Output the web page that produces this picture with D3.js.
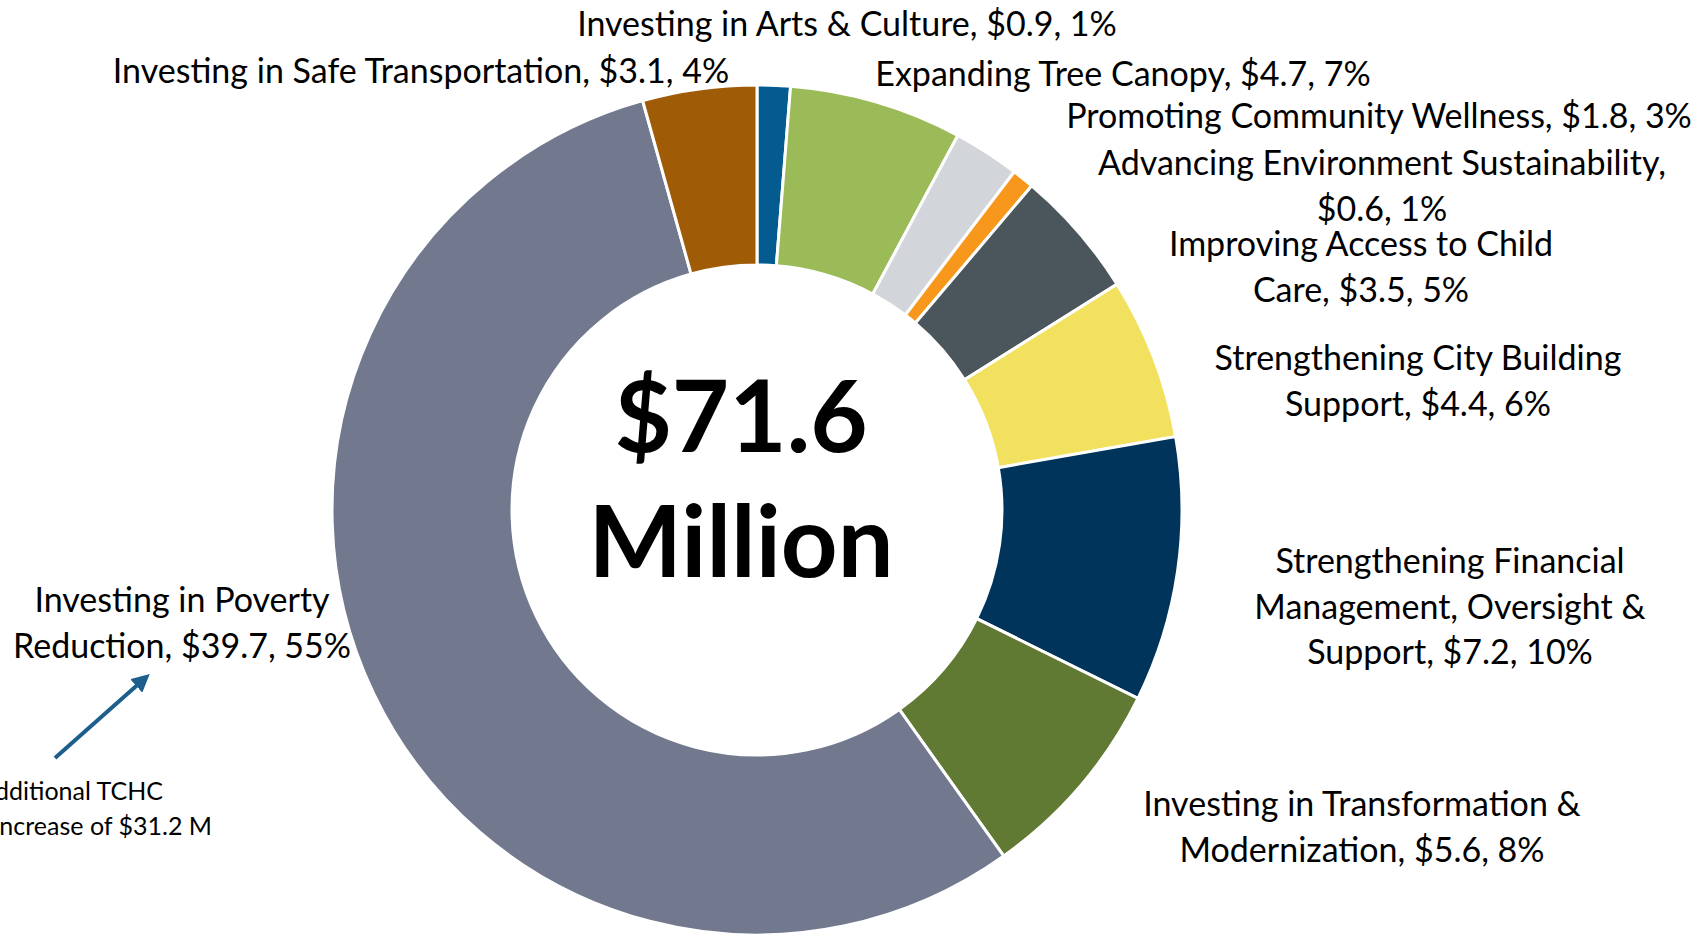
<!DOCTYPE html>
<html>
<head>
<meta charset="utf-8">
<script src="https://cdn.jsdelivr.net/npm/d3@7"></script>
<style>
  html, body { margin: 0; padding: 0; background: #fff; overflow: hidden; }
  svg { display: block; }
  .lbl { font-family: Lato, "Open Sans", sans-serif; font-size: 34px; fill: #000; }
</style>
</head>
<body>
<div id="chart"></div>
<script>
// data (clockwise from 12 o'clock)
var categories = [
  "Investing in Arts & Culture",
  "Expanding Tree Canopy",
  "Promoting Community Wellness",
  "Advancing Environment Sustainability",
  "Improving Access to Child Care",
  "Strengthening City Building Support",
  "Strengthening Financial Management, Oversight & Support",
  "Investing in Transformation & Modernization",
  "Investing in Poverty Reduction",
  "Investing in Safe Transportation"
];
var values = [0.9, 4.7, 1.8, 0.6, 3.5, 4.4, 7.2, 5.6, 39.7, 3.1];
var percents = [1, 7, 3, 1, 5, 6, 10, 8, 55, 4];
var totalText = ["$71.6", "Million"];
var noteText = ["Additional TCHC", "Increase of $31.2 M"];

var colors = ["#045b8f", "#9bbb59", "#d2d5da", "#f7981d", "#4a555c",
              "#f2e05f", "#00345a", "#617a33", "#72798f", "#a05b07"];

// label layout: [centre x, first baseline], words per line
var labelPos = [[847, 36], [1123, 86], [1379, 128], [1382, 175], [1361, 256],
                [1418, 370], [1450, 573], [1362, 816], [182, 612], [421, 83]];
var wrapAt = [null, null, null, [3, 2], [4, 3], [3, 3], [2, 3, 3], [4, 3], [3, 3], null];

var svgWidth = 1705;
var svgHeight = 934;
var cx = 757, cy = 510;
var outerR = 425, innerR = 245;
var lineH = 45.5;

var svg = d3.select("#chart")
  .append("svg")
  .attr("width", svgWidth)
  .attr("height", svgHeight);

var pie = d3.pie().sort(null).value(d => d);
var arc = d3.arc().innerRadius(innerR).outerRadius(outerR);

var donut = svg.append("g")
  .attr("transform", `translate(${cx}, ${cy})`);

donut.selectAll("path")
  .data(pie(values))
  .enter()
  .append("path")
  .attr("d", arc)
  .attr("fill", (d, i) => colors[i])
  .attr("stroke", "#fff")
  .attr("stroke-width", 3);

// slice labels
categories.forEach(function (cat, i) {
  var full = `${cat}, $${values[i]}, ${percents[i]}%`;
  var words = full.split(" ");
  var lines = [];
  if (wrapAt[i]) {
    var k = 0;
    wrapAt[i].forEach(function (n) {
      lines.push(words.slice(k, k + n).join(" "));
      k += n;
    });
  } else {
    lines.push(full);
  }
  var t = svg.append("text")
    .attr("class", "lbl")
    .attr("text-anchor", "middle")
    .attr("x", labelPos[i][0])
    .attr("y", labelPos[i][1]);
  lines.forEach(function (ln, j) {
    t.append("tspan")
      .attr("x", labelPos[i][0])
      .attr("dy", j === 0 ? 0 : lineH)
      .text(ln);
  });
});

// centre total
svg.append("text")
  .attr("x", 741).attr("y", 452)
  .attr("text-anchor", "middle")
  .style("font-family", "Lato, sans-serif")
  .style("font-weight", "bold")
  .style("font-size", "99px")
  .text(totalText[0]);
svg.append("text")
  .attr("x", 741).attr("y", 577)
  .attr("text-anchor", "middle")
  .style("font-family", "Lato, sans-serif")
  .style("font-weight", "bold")
  .style("font-size", "99px")
  .text(totalText[1]);

// TCHC note and arrow
svg.append("defs").append("marker")
  .attr("id", "head")
  .attr("viewBox", "0 0 10 10")
  .attr("refX", 5).attr("refY", 5)
  .attr("markerWidth", 4.5).attr("markerHeight", 4.5)
  .attr("orient", "auto")
  .append("path")
  .attr("d", "M0,0 L10,5 L0,10 z")
  .attr("fill", "#1d5f8c");

svg.append("line")
  .attr("x1", 55).attr("y1", 758)
  .attr("x2", 143).attr("y2", 680)
  .attr("stroke", "#1d5f8c")
  .attr("stroke-width", 4)
  .attr("marker-end", "url(#head)");

var note = svg.append("text")
  .attr("text-anchor", "end")
  .style("font-family", "Lato, sans-serif")
  .style("font-size", "25px");
note.append("tspan").attr("x", 163).attr("y", 800).text(noteText[0]);
note.append("tspan").attr("x", 212).attr("y", 835).text(noteText[1]);
</script>
</body>
</html>
